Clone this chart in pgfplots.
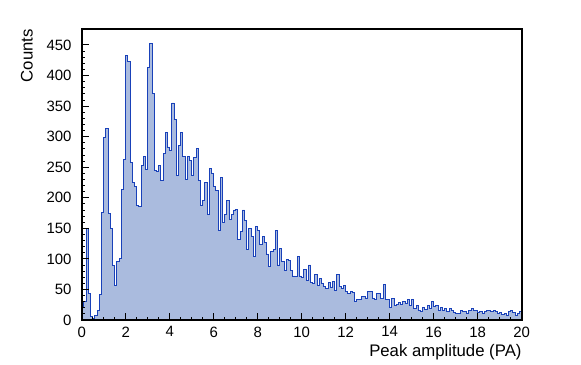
\documentclass[border=0pt]{standalone}
\usepackage{pgfplots}
\pgfplotsset{compat=1.18}
\usepackage{pgfplotstable}
\usepackage{fontspec}
\setmainfont{Liberation Sans}
\definecolor{histfill}{RGB}{170,187,222}
\definecolor{histline}{RGB}{25,65,185}
\pgfplotstableread{
x y
0.0 20
0.1 30
0.2 150
0.3 44
0.4 5
0.5 2
0.6 8
0.7 16
0.8 41
0.9 176
1.0 298
1.1 314
1.2 175
1.3 149
1.4 89
1.5 56
1.6 95
1.7 100
1.8 213
1.9 262
2.0 432
2.1 423
2.2 258
2.3 225
2.4 218
2.5 188
2.6 185
2.7 252
2.8 267
2.9 246
3.0 413
3.1 453
3.2 371
3.3 245
3.4 243
3.5 252
3.6 228
3.7 273
3.8 307
3.9 283
4.0 278
4.1 355
4.2 328
4.3 236
4.4 285
4.5 307
4.6 267
4.7 230
4.8 268
4.9 261
5.0 237
5.1 266
5.2 281
5.3 228
5.4 188
5.5 196
5.6 225
5.7 173
5.8 248
5.9 239
6.0 218
6.1 212
6.2 147
6.3 233
6.4 159
6.5 173
6.6 196
6.7 164
6.8 172
6.9 180
7.0 181
7.1 131
7.2 145
7.3 180
7.4 163
7.5 116
7.6 150
7.7 137
7.8 104
7.9 153
8.0 147
8.1 123
8.2 136
8.3 127
8.4 108
8.5 87
8.6 112
8.7 115
8.8 146
8.9 90
9.0 117
9.1 95
9.2 81
9.3 99
9.4 98
9.5 81
9.6 72
9.7 71
9.8 104
9.9 72
10.0 70
10.1 82
10.2 64
10.3 90
10.4 61
10.5 60
10.6 75
10.7 56
10.8 68
10.9 60
11.0 55
11.1 52
11.2 62
11.3 54
11.4 63
11.5 49
11.6 74
11.7 55
11.8 52
11.9 57
12.0 46
12.1 44
12.2 47
12.3 45
12.4 30
12.5 33
12.6 33
12.7 38
12.8 38
12.9 36
13.0 46
13.1 46
13.2 35
13.3 34
13.4 43
13.5 44
13.6 35
13.7 58
13.8 34
13.9 33
14.0 20
14.1 35
14.2 23
14.3 26
14.4 28
14.5 25
14.6 30
14.7 27
14.8 34
14.9 23
15.0 33
15.1 19
15.2 23
15.3 16
15.4 14
15.5 20
15.6 17
15.7 23
15.8 19
15.9 30
16.0 22
16.1 23
16.2 15
16.3 20
16.4 16
16.5 19
16.6 14
16.7 19
16.8 16
16.9 12
17.0 11
17.1 11
17.2 15
17.3 14
17.4 14
17.5 11
17.6 15
17.7 19
17.8 15
17.9 15
18.0 12
18.1 14
18.2 11
18.3 14
18.4 15
18.5 15
18.6 14
18.7 16
18.8 14
18.9 11
19.0 12
19.1 9
19.2 11
19.3 8
19.4 14
19.5 15
19.6 12
19.7 8
19.8 11
19.9 14
20.0 14
}\histdata
\begin{document}
\begin{tikzpicture}[x=1bp,y=1bp]
\useasboundingbox (0,0) rectangle (581,364);
\begin{axis}[
  at={(81.7bp,44bp)}, anchor=south west,
  scale only axis, width=440bp, height=291bp,
  xmin=0, xmax=20, ymin=0, ymax=476,
  xtick={0,2,...,20}, minor x tick num=3,
  ytick={0,50,...,450}, minor y tick num=4,
  tick align=inside, xtick pos=bottom, ytick pos=left,
  major tick length=7bp, minor tick length=3.5bp,
  tick style={black, line width=0.8bp},
  axis line style={black, line width=1.6bp},
  /pgf/number format/assume math mode=true,
  xticklabel style={font=\fontsize{15}{15}\selectfont, inner sep=0pt, anchor=north, yshift=-6.5bp},
  yticklabel style={font=\fontsize{15}{15}\selectfont, inner sep=0pt, anchor=east, xshift=-10bp},
  xlabel={Peak amplitude (PA)}, ylabel={Counts},
  xlabel style={at={(axis description cs:1,0)}, anchor=base east, inner sep=0pt, yshift=-36bp, font=\fontsize{16.8}{16.8}\selectfont},
  ylabel style={at={(axis description cs:-0.1107,1)}, anchor=south east, inner sep=0pt, rotate=0, font=\fontsize{16.8}{16.8}\selectfont},
  axis on top,
]
\addplot [const plot mark left, fill=histfill, draw=histline, line width=0.9bp] table [x=x, y=y] {\histdata} \closedcycle;
\end{axis}
\end{tikzpicture}
\end{document}
